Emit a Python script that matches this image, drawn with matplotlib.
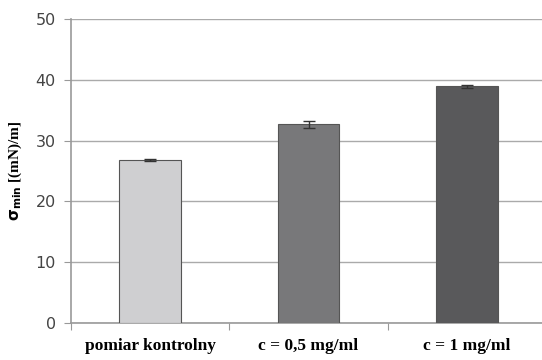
import matplotlib
matplotlib.use("Agg")
import matplotlib.pyplot as plt
import numpy as np

kategorie = ["pomiar kontrolny", "c = 0,5 mg/ml", "c = 1 mg/ml"]
wartosci = [26.8, 32.7, 38.9]
bledy = [0.2, 0.6, 0.2]
kolory = ["#cfcfd1", "#78787a", "#59595b"]

fig = plt.figure(figsize=(5.42, 3.6), dpi=100)
ax = fig.add_axes([71 / 542, 1 - 323 / 360, 475 / 542, 304 / 360])

x = np.arange(len(kategorie))
ax.bar(x, wartosci, width=0.39, color=kolory, edgecolor="#555555", linewidth=0.8,
       zorder=3, yerr=bledy, error_kw=dict(ecolor="#333333", elinewidth=1, capsize=4, capthick=1))

ax.set_xlim(-0.5, 2.5)
ax.set_ylim(0, 50)
ax.set_yticks(range(0, 51, 10))
ax.yaxis.grid(True, color="#aaaaaa", linewidth=1, zorder=0)

ax.set_xticks([-0.5, 0.5, 1.5, 2.5])
ax.set_xticklabels([])
ax.set_xticks(x, minor=True)
ax.set_xticklabels(kategorie, minor=True, family="Liberation Serif", fontweight="bold",
                   fontsize=12.5)
ax.tick_params(axis="x", which="minor", length=0, pad=11)
ax.tick_params(axis="x", which="major", length=5, color="#999999", direction="out")
ax.tick_params(axis="y", length=5, color="#999999", labelcolor="#444444", labelsize=11.5, pad=6)

for s in ["top", "right"]:
    ax.spines[s].set_visible(False)
for s in ["left", "bottom"]:
    ax.spines[s].set_color("#999999")
    ax.spines[s].set_linewidth(1.2)

ax.set_ylabel(r"$\mathbf{\sigma_{min}}$ [(mN)/m]", family="Liberation Serif",
              fontweight="bold", fontsize=11, labelpad=8)

fig.savefig("out.png", dpi=100)
